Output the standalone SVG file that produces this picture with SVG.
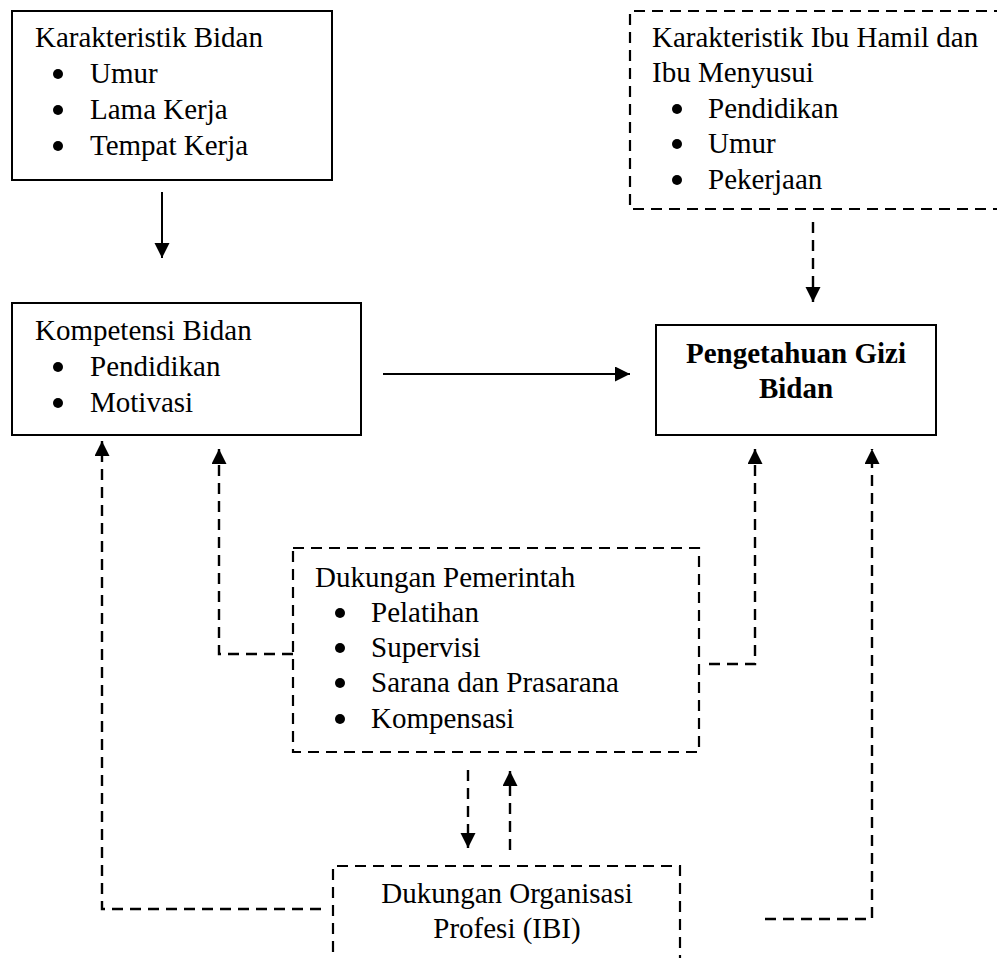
<svg xmlns="http://www.w3.org/2000/svg" width="997" height="958" viewBox="0 0 997 958">
<style>
text{font-family:"Liberation Serif","Times New Roman",serif;font-size:29px;fill:#000}
.b{font-weight:bold}
.solid{fill:none;stroke:#000;stroke-width:2}
.dash{fill:none;stroke:#000;stroke-width:2.2;stroke-dasharray:11 7}
.ln{fill:none;stroke:#000;stroke-width:2}
.dl{fill:none;stroke:#000;stroke-width:2.4;stroke-dasharray:11 7}
circle{fill:#000}
</style>
<defs>
<marker id="ah" markerUnits="userSpaceOnUse" markerWidth="16" markerHeight="16" refX="15" refY="7.5" orient="auto" viewBox="0 0 16 16">
<path d="M0,0 L15,7.5 L0,15 Z" fill="#000"/>
</marker>
</defs>
<rect width="997" height="958" fill="#fff"/>
<g id="karakteristik-bidan">
<rect class="solid" x="12" y="11" width="320" height="169"/>
<text x="35" y="47">Karakteristik Bidan</text>
<circle cx="58" cy="74" r="5"/><text x="90" y="83">Umur</text>
<circle cx="58" cy="110" r="5"/><text x="90" y="119">Lama Kerja</text>
<circle cx="58" cy="146" r="5"/><text x="90" y="155">Tempat Kerja</text>
</g>
<g id="kompetensi-bidan">
<rect class="solid" x="12" y="303" width="349" height="132"/>
<text x="35" y="340">Kompetensi Bidan</text>
<circle cx="58" cy="367" r="5"/><text x="90" y="376">Pendidikan</text>
<circle cx="58" cy="403" r="5"/><text x="90" y="412">Motivasi</text>
</g>
<g id="karakteristik-ibu">
<path class="dash" d="M1005,11 H630 V209 H1005"/>
<text x="652" y="47">Karakteristik Ibu Hamil dan</text>
<text x="652" y="82">Ibu Menyusui</text>
<circle cx="677" cy="109" r="5"/><text x="708" y="118">Pendidikan</text>
<circle cx="677" cy="144" r="5"/><text x="708" y="153">Umur</text>
<circle cx="677" cy="180" r="5"/><text x="708" y="189">Pekerjaan</text>
</g>
<g id="pengetahuan-gizi">
<rect class="solid" x="656" y="325" width="280" height="110"/>
<text class="b" x="796" y="363" text-anchor="middle">Pengetahuan Gizi</text>
<text class="b" x="796" y="398" text-anchor="middle">Bidan</text>
</g>
<g id="dukungan-pemerintah">
<rect class="dash" x="293" y="548" width="406" height="204"/>
<text x="315" y="587">Dukungan Pemerintah</text>
<circle cx="340" cy="613" r="5"/><text x="371" y="622">Pelatihan</text>
<circle cx="340" cy="648" r="5"/><text x="371" y="657">Supervisi</text>
<circle cx="340" cy="683" r="5"/><text x="371" y="692">Sarana dan Prasarana</text>
<circle cx="340" cy="719" r="5"/><text x="371" y="728">Kompensasi</text>
</g>
<g id="dukungan-organisasi">
<path class="dash" d="M333,970 V866 H680 V970"/>
<text x="507" y="903" text-anchor="middle">Dukungan Organisasi</text>
<text x="507" y="938" text-anchor="middle">Profesi (IBI)</text>
</g>
<g id="connectors">
<path class="ln" d="M162,192 V258" marker-end="url(#ah)"/>
<path class="ln" d="M383,374 H630" marker-end="url(#ah)"/>
<path class="dl" d="M813,222 V302" marker-end="url(#ah)"/>
<path class="dl" d="M709,664 H755 V449" marker-end="url(#ah)"/>
<path class="dl" d="M765,919 H872 V449" marker-end="url(#ah)"/>
<path class="dl" d="M293,654 H219 V449" marker-end="url(#ah)"/>
<path class="dl" d="M321,909 H102 V441" marker-end="url(#ah)"/>
<path class="dl" d="M468,770 V848" marker-end="url(#ah)"/>
<path class="dl" d="M510,850 V771" marker-end="url(#ah)"/>
</g>
</svg>
